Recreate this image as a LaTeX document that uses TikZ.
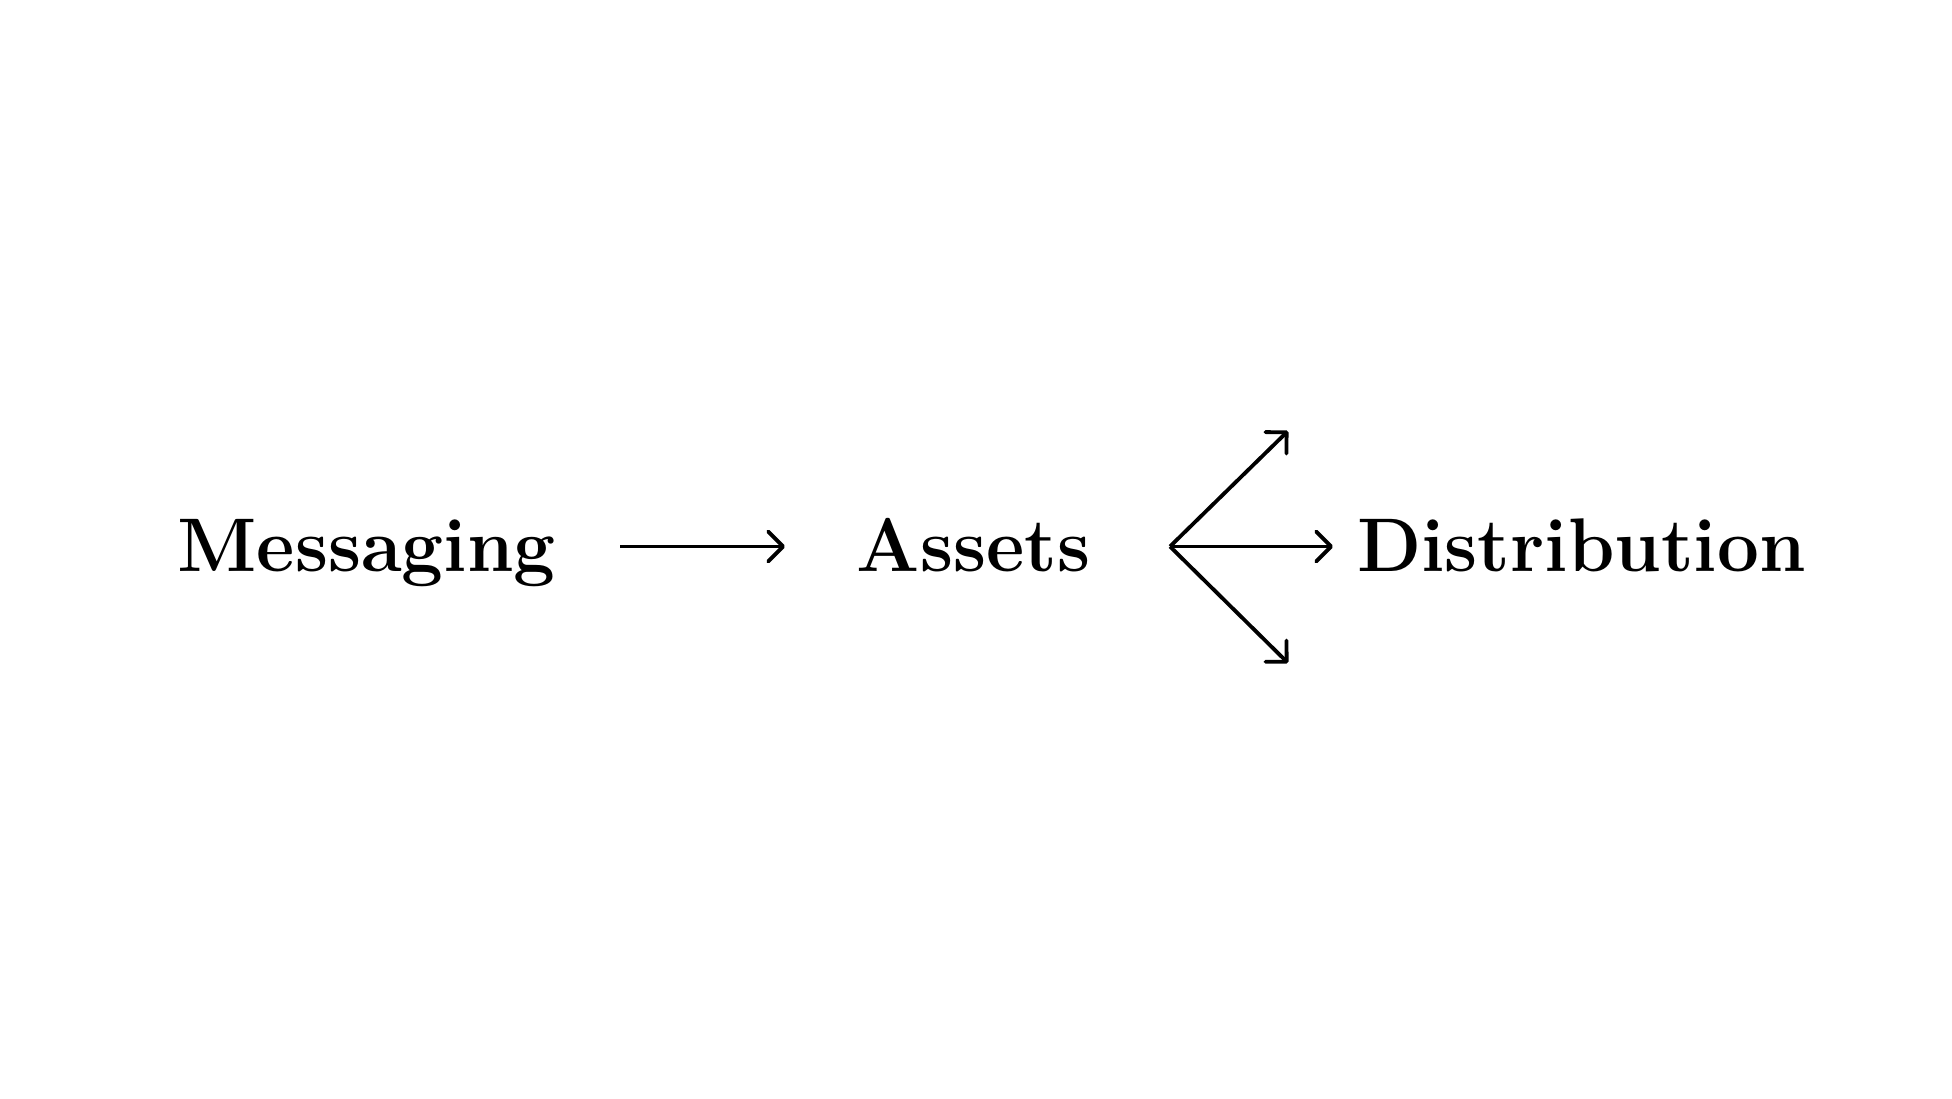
\documentclass[tikz,border=0pt]{standalone}
\usetikzlibrary{arrows.meta}

\begin{document}
\begin{tikzpicture}[x=1pt,y=1pt]
        \tikzset{word/.style={font=\fontsize{76}{80}\selectfont\bfseries,
            inner sep=0pt,anchor=base},
          flow/.style={line width=3.8pt,
            -{Straight Barb[length=15pt,width=30pt,round]}}}
        \useasboundingbox (0,0) rectangle (1952,1098);
        \node[word] (msg) at (366.5,526) {\scalebox{.98}[1]{Messaging}};
        \node[word] (assets) at (973.5,526) {\scalebox{.98}[1]{Assets}};
        \node[word] (dist) at (1581.5,526) {\scalebox{.98}[1]{Distribution}};
        \coordinate (out) at (620,551.5);
        \coordinate (in) at (785,551.5);
        \coordinate (hub) at (1170,551.5);
        \coordinate (up) at (1288,667);
        \coordinate (mid) at (1333,551.5);
        \coordinate (down) at (1288,435);
        \draw[flow] (out) -- (in);
        \foreach \tip in {up,mid,down}
          \draw[flow] (hub) -- (\tip);
      \end{tikzpicture}
\end{document}
